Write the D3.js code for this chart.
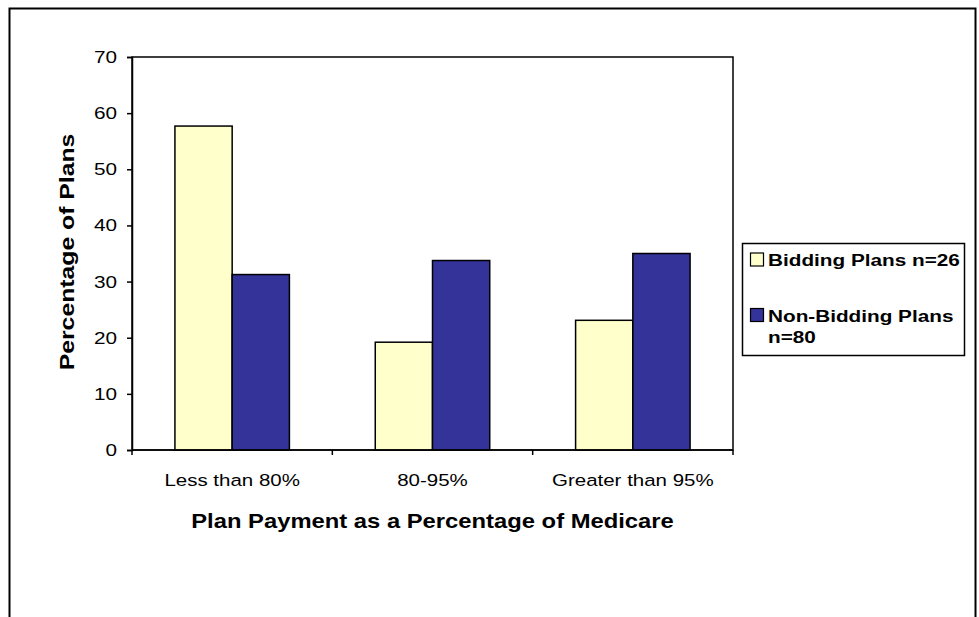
<!DOCTYPE html>
<html>
<head>
<meta charset="utf-8">
<script src="https://cdn.jsdelivr.net/npm/d3@7"></script>
<style>
  html, body { margin: 0; padding: 0; background: #fff; }
  svg { display: block; font-family: "Liberation Sans", Arial, sans-serif; }
</style>
</head>
<body>
<svg id="chart" width="979" height="617"></svg>
<script>
// ---- data ----
const categories = ["Less than 80%", "80-95%", "Greater than 95%"];
const seriesNames = ["Bidding Plans n=26", "Non-Bidding Plans n=80"];
const biddingValues = [57.7, 19.2, 23.1];
const nonBiddingValues = [31.25, 33.75, 35];
const yTicks = [0, 10, 20, 30, 40, 50, 60, 70];
const xTitle = "Plan Payment as a Percentage of Medicare";
const yTitle = "Percentage of Plans";
const legendLines = [["Bidding Plans n=26"], ["Non-Bidding Plans", "n=80"]];

// ---- styles ----
const colors = ["#FFFFCC", "#333399"];
const SX = 1.22; // horizontal text stretch seen in reference

const svg = d3.select("#chart");
const plot = { left: 132, right: 733, top: 57, bottom: 450 };

// outer frame
svg.append("rect")
  .attr("x", 9.5).attr("y", 8.5).attr("width", 966).attr("height", 640)
  .attr("fill", "#fff").attr("stroke", "#000").attr("stroke-width", 2);

const x0 = d3.scaleBand().domain(categories).range([plot.left, plot.right]).padding(0);
const x1 = d3.scaleBand().domain(seriesNames).range([0, x0.bandwidth()]).paddingInner(0).paddingOuter(0.75);
const y = d3.scaleLinear().domain([0, 70]).range([plot.bottom, plot.top]);

// plot area
svg.append("rect")
  .attr("x", plot.left).attr("y", plot.top)
  .attr("width", plot.right - plot.left).attr("height", plot.bottom - plot.top)
  .attr("fill", "#fff").attr("stroke", "#000").attr("stroke-width", 1.5);

// bars
const rows = categories.map((c, i) => ({ cat: c, vals: [biddingValues[i], nonBiddingValues[i]] }));
const g = svg.append("g");
rows.forEach(r => {
  r.vals.forEach((v, j) => {
    g.append("rect")
      .attr("x", x0(r.cat) + x1(seriesNames[j]))
      .attr("y", y(v))
      .attr("width", x1.bandwidth())
      .attr("height", y(0) - y(v))
      .attr("fill", colors[j])
      .attr("stroke", "#000").attr("stroke-width", 1.5);
  });
});

// y axis
const yAxis = svg.append("g").attr("transform", `translate(${plot.left},0)`)
  .call(d3.axisLeft(y).tickValues(yTicks).tickSize(5).tickPadding(10).tickFormat(d3.format("d")));
yAxis.select(".domain").attr("stroke", "#000").attr("stroke-width", 1.5);
yAxis.selectAll(".tick line").attr("stroke", "#000").attr("stroke-width", 1.5);
yAxis.selectAll(".tick text")
  .attr("font-size", 17).attr("fill", "#000")
  .attr("font-family", "'Liberation Sans', Arial, sans-serif")
  .each(function() {
    const t = d3.select(this);
    const xx = +t.attr("x");
    t.attr("x", null).attr("transform", `translate(${xx},0) scale(${SX},1)`);
  });

// x axis (ticks at category boundaries)
const boundaries = categories.map(c => x0(c)).concat([plot.right]);
const xAxisG = svg.append("g");
xAxisG.append("line")
  .attr("x1", plot.left).attr("x2", plot.right)
  .attr("y1", y(0)).attr("y2", y(0))
  .attr("stroke", "#000").attr("stroke-width", 1.5);
xAxisG.selectAll("line.tk").data(boundaries).join("line")
  .attr("class", "tk")
  .attr("x1", d => d).attr("x2", d => d)
  .attr("y1", y(0)).attr("y2", y(0) + 5)
  .attr("stroke", "#000").attr("stroke-width", 1.5);
xAxisG.selectAll("text").data(categories).join("text")
  .attr("transform", d => `translate(${x0(d) + x0.bandwidth() / 2},486) scale(${SX},1)`)
  .attr("text-anchor", "middle")
  .attr("font-size", 16.8).attr("fill", "#000")
  .text(d => d);

// axis titles
svg.append("text")
  .attr("transform", `translate(${(plot.left + plot.right) / 2},528) scale(${SX},1)`)
  .attr("text-anchor", "middle").attr("font-weight", "bold").attr("font-size", 19.5)
  .text(xTitle);
svg.append("text")
  .attr("transform", `translate(74,252) rotate(-90) scale(${SX},1)`)
  .attr("text-anchor", "middle").attr("font-weight", "bold").attr("font-size", 20.3)
  .text(yTitle);

// legend
const lg = svg.append("g");
lg.append("rect")
  .attr("x", 742.5).attr("y", 243.5).attr("width", 222).attr("height", 112)
  .attr("fill", "#fff").attr("stroke", "#000").attr("stroke-width", 1.5);
const legendY = [266, 321.5];
seriesNames.forEach((s, i) => {
  lg.append("rect")
    .attr("x", 750.5).attr("y", legendY[i] - 13)
    .attr("width", 13).attr("height", 13)
    .attr("fill", colors[i]).attr("stroke", "#000").attr("stroke-width", 1.2);
  legendLines[i].forEach((ln, k) => {
    lg.append("text")
      .attr("transform", `translate(768,${legendY[i] + k * 21.6}) scale(${SX},1)`)
      .attr("font-weight", "bold").attr("font-size", 17)
      .text(ln);
  });
});
</script>
</body>
</html>
